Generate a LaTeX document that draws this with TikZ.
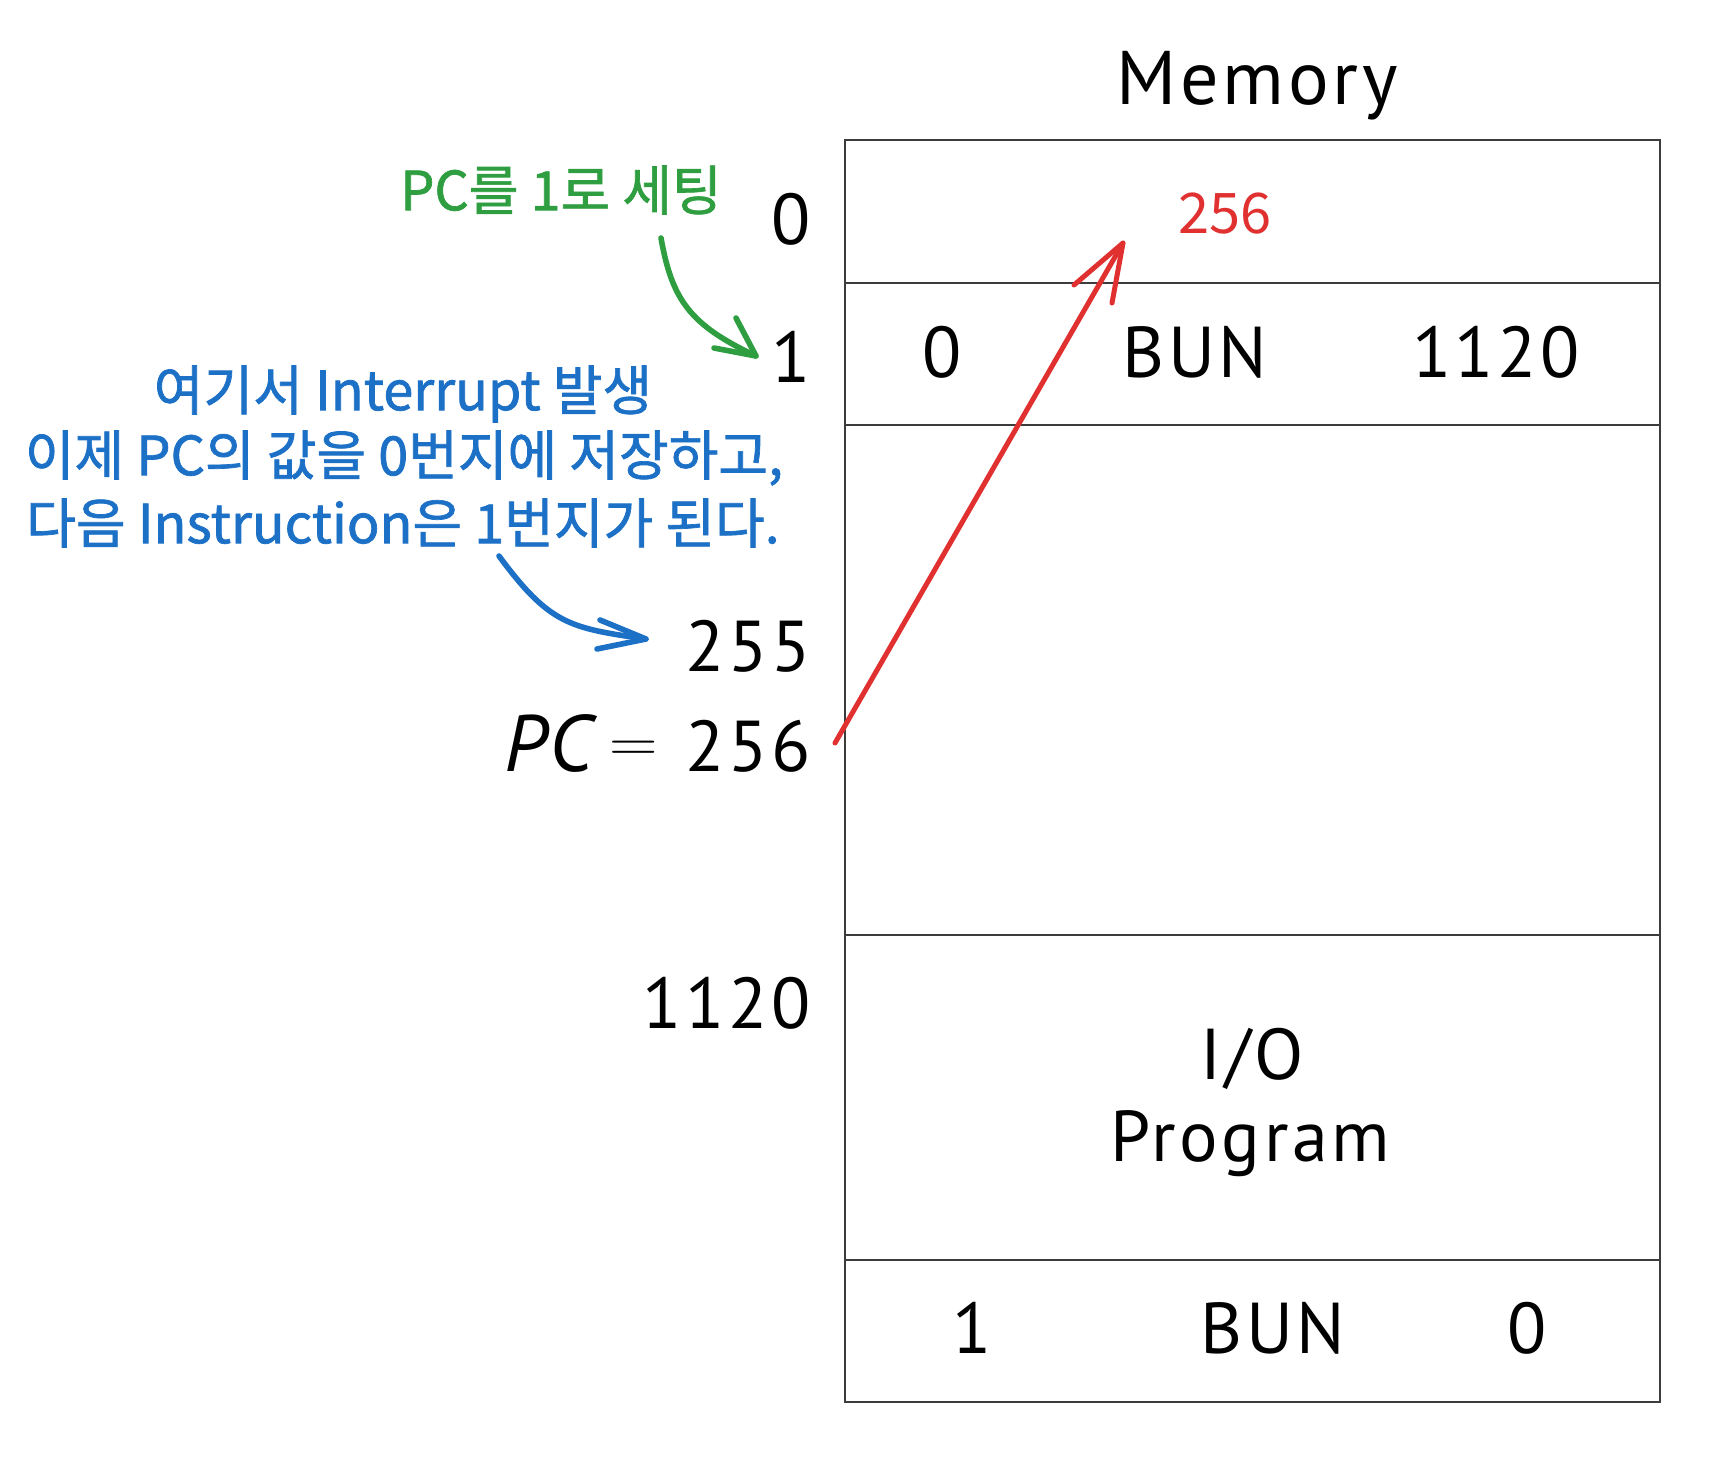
\documentclass[tikz,border=0pt]{standalone}
\usepackage{fontspec}
\setmainfont{PT Sans}
\newfontfamily\memfont[LetterSpace=5]{PT Sans}
\newfontfamily\kr[FakeBold=1.3]{Noto Sans CJK KR}
\newfontfamily\krr{Noto Sans CJK KR}
\definecolor{anngreen}{RGB}{46,158,64}
\definecolor{annblue}{RGB}{28,112,198}
\definecolor{annred}{RGB}{224,48,48}
\definecolor{boxline}{RGB}{60,60,60}
\tikzset{
  memtext/.style={inner sep=0pt, font=\memfont\fontsize{36}{40}\selectfont},
  addr/.style={memtext, anchor=east},
  krtext/.style={inner sep=0pt, font=\kr\fontsize{27}{32}\selectfont, align=center},
  cell/.style={draw=boxline, line width=1.3pt},
  hand/.style={line width=2.8pt, line cap=round, line join=round}
}
\begin{document}
\begin{tikzpicture}[x=0.5pt, y=-0.5pt]
\useasboundingbox (0,0) rectangle (1718,1456);
% memory box
\draw[cell] (845,140) rectangle (1660,1402);
\draw[cell] (845,283) -- (1660,283);
\draw[cell] (845,425) -- (1660,425);
\draw[cell] (845,935) -- (1660,935);
\draw[cell] (845,1260) -- (1660,1260);
% title
\node[memtext, anchor=base, font=\memfont\fontsize{38}{40}\selectfont] (title) at (1257,104) {Memory};
% addresses
\node[addr] (a0) at (811,219) {0};
\node[addr] (a1) at (811,357) {1};
\node[addr] (a255) at (811,646) {255};
\node[addr] (pc) at (811,743) {{\fontsize{40}{40}\selectfont\itshape PC}\hspace{8pt}\raisebox{5pt}{{\fontsize{24.88}{30}\selectfont\scalebox{1.35}[1.15]{$=$}}}\hspace{14pt}256};
\node[addr] (a1120) at (811,1003) {1120};
% row 1
\node[memtext] (r1a) at (942,352) {0};
\node[memtext] (r1b) at (1195,352) {BUN};
\node[memtext] (r1c) at (1496,352) {1120};
% I/O program
\node[memtext, anchor=base] (io) at (1252,1079) {I/O};
\node[memtext, anchor=base] (prog) at (1250,1161) {Program};
% bottom row
\node[memtext] (rba) at (972,1328) {1};
\node[memtext] (rbb) at (1273,1328) {BUN};
\node[memtext] (rbc) at (1527,1328) {0};
% red value
\node[inner sep=0pt, font=\krr\fontsize{28}{32}\selectfont, text=annred] (v256) at (1225,214) {256};
% annotations
\node[krtext, text=anngreen] (gtext) at (561,190) {PC를 1로 세팅};
\node[krtext, text=annblue] (btext1) at (403,394) {여기서 Interrupt 발생};
\node[krtext, text=annblue] (btext2) at (404,458) {이제 PC의 값을 0번지에 저장하고,};
\node[krtext, text=annblue] (btext3) at (403,523) {다음 Instruction은 1번지가 된다.};
% arrow coordinates
\coordinate (rs) at (835,743);
\coordinate (rt) at (1123,243);
\coordinate (rb1) at (1074,285);
\coordinate (rb2) at (1112,303);
\coordinate (gs) at (661,238);
\coordinate (gt) at (756,356);
\coordinate (gb1) at (714,348);
\coordinate (gb2) at (736,318);
\coordinate (bs) at (499,556);
\coordinate (bt) at (646,639);
\coordinate (bb1) at (600,620);
\coordinate (bb2) at (597,649);
% red arrow
\draw[hand, annred, line width=2.5pt] (rs) -- (rt);
\draw[hand, annred, line width=2.5pt] (rb1) -- (rt) -- (rb2);
% green arrow
\draw[hand, anngreen] (gs) .. controls (672,300) and (690,325) .. (gt);
\draw[hand, anngreen] (gb1) -- (gt) -- (gb2);
% blue arrow
\draw[hand, annblue] (bs) .. controls (550,625) and (570,628) .. (bt);
\draw[hand, annblue] (bb1) -- (bt) -- (bb2);
\end{tikzpicture}
\end{document}
